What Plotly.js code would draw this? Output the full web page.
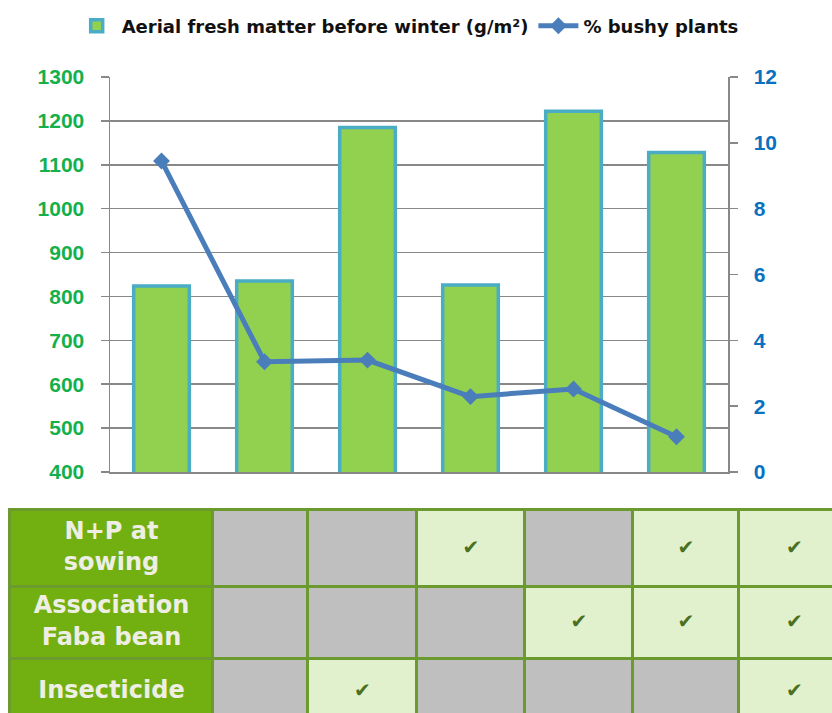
<!DOCTYPE html>
<html>
<head>
<meta charset="utf-8">
<script src="https://cdn.plot.ly/plotly-3.0.1.min.js"></script>
<style>html,body{margin:0;padding:0;background:#fff;}#chart{width:832px;height:713px;}</style>
</head>
<body>
<div id="chart"></div>
<script>
// ---- data ----
const treatments = ['Control', 'Insecticide', 'N+P', 'Faba bean', 'N+P + Faba bean', 'N+P + Faba bean + Insecticide'];
const freshMatter = [824, 835, 1185, 826, 1222, 1128];
const bushyPct = [9.45, 3.35, 3.40, 2.29, 2.52, 1.07];
const barName = 'Aerial fresh matter before winter (g/m²)';
const lineName = '% bushy plants';

const rowLabels = ['N+P at<br>sowing', 'Association<br>Faba bean', 'Insecticide'];
const npSowing   = [0, 0, 1, 0, 1, 1];
const fabaBean   = [0, 0, 0, 1, 1, 1];
const insecticide = [0, 1, 0, 0, 0, 1];
const tableRows = [npSowing, fabaBean, insecticide];

// ---- table geometry (pixel-like units of the table axes) ----
const colEdges = [10, 213, 308, 417, 525, 633, 739, 850];
const rowEdges = [510, 587, 659, 725];

const C = {
  header: '#72b012', gray: '#bfbfbf', light: '#e1f0cd', border: '#6b9a2e',
  headerText: '#eeeee4', check: '#4a7020',
  bar: '#92d050', barLine: '#4bacc6', line: '#4a7ebb',
  grid: '#888888', leftTick: '#14b04c', rightTick: '#0a70c0'
};

// heatmap z: 0 header, 1 empty (gray), 2 checked
const z = tableRows.map(r => [0].concat(r.map(v => v ? 2 : 1)));

// text trace for the table
const tx = [], ty = [], tt = [], tc = [], ts = [];
const colCenters = colEdges.slice(0, -1).map((e, i) => (e + colEdges[i + 1]) / 2);
const rowCenters = rowEdges.slice(0, -1).map((e, i) => (e + rowEdges[i + 1]) / 2);
tableRows.forEach((r, i) => {
  tx.push(colCenters[0]); ty.push(rowCenters[i]); tt.push('<b>' + rowLabels[i] + '</b>');
  tc.push(C.headerText); ts.push(24);
  r.forEach((v, j) => {
    if (v) {
      tx.push(colCenters[j + 1]); ty.push(rowCenters[i]); tt.push('✔');
      tc.push(C.check); ts.push(20);
    }
  });
});

const H = 713, W = 832;
const traces = [
  {
    type: 'bar', x: treatments, y: freshMatter, name: '<b>' + barName + '</b>',
    marker: {color: C.bar, line: {color: C.barLine, width: 3.5}},
    xaxis: 'x', yaxis: 'y', hoverinfo: 'y'
  },
  {
    type: 'scatter', mode: 'lines+markers', x: treatments, y: bushyPct, name: '<b>' + lineName + '</b>',
    line: {color: C.line, width: 5},
    marker: {symbol: 'diamond', size: 13, color: C.line},
    xaxis: 'x', yaxis: 'y2', cliponaxis: false
  },
  {
    type: 'heatmap', x: colEdges, y: rowEdges, z: z,
    zmin: 0, zmax: 2, showscale: false,
    colorscale: [[0, C.header], [0.5, C.gray], [1, C.light]],
    xgap: 3, ygap: 3, xaxis: 'x3', yaxis: 'y3', hoverinfo: 'skip', showlegend: false
  },
  {
    type: 'scatter', mode: 'text', x: tx, y: ty, text: tt,
    textfont: {family: 'DejaVu Sans', color: tc, size: ts},
    xaxis: 'x3', yaxis: 'y3', showlegend: false, hoverinfo: 'skip', cliponaxis: false
  }
];

const layout = {
  width: W, height: H,
  margin: {l: 0, r: 0, t: 0, b: 0},
  paper_bgcolor: '#ffffff', plot_bgcolor: '#ffffff',
  bargap: 0.46,
  showlegend: true,
  legend: {
    orientation: 'h', x: 0.49, xanchor: 'center', y: 1 - 26 / H, yanchor: 'middle',
    font: {family: 'DejaVu Sans', size: 18, color: '#111111'},
    itemwidth: 40, tracegroupgap: 0, bgcolor: 'rgba(0,0,0,0)'
  },
  xaxis: {
    domain: [110 / W, 728 / W], range: [-0.5, 5.5], showticklabels: false, ticks: '',
    showgrid: false, showline: true, linecolor: C.grid, linewidth: 1.5, zeroline: false, fixedrange: true
  },
  yaxis: {
    domain: [(H - 472) / H, (H - 77) / H], range: [400, 1300], dtick: 100, tick0: 400,
    showgrid: true, gridcolor: C.grid, gridwidth: 1.5,
    showline: true, linecolor: C.grid, linewidth: 1.5,
    ticks: 'outside', ticklen: 8, tickwidth: 1.5, tickcolor: C.grid,
    ticklabelstandoff: 12,
    tickfont: {family: 'Liberation Sans', size: 21, color: C.leftTick, weight: 'bold'},
    zeroline: false, fixedrange: true
  },
  yaxis2: {
    overlaying: 'y', side: 'right', anchor: 'x', range: [0, 12], dtick: 2, tick0: 0,
    showgrid: false, showline: true, linecolor: C.grid, linewidth: 1.5,
    ticks: 'outside', ticklen: 8, tickwidth: 1.5, tickcolor: C.grid,
    ticklabelstandoff: 12,
    tickfont: {family: 'Liberation Sans', size: 21, color: C.rightTick, weight: 'bold'},
    zeroline: false, fixedrange: true
  },
  xaxis3: {domain: [0, 1], range: [0, W], visible: false, fixedrange: true, anchor: 'y3'},
  yaxis3: {domain: [0, (H - 508) / H], range: [H, 508], visible: false, fixedrange: true, anchor: 'x3'},
  shapes: [{
    type: 'rect', xref: 'x3', yref: 'y3', layer: 'below',
    x0: colEdges[0] - 2, x1: colEdges[colEdges.length - 1], y0: rowEdges[0] - 2, y1: rowEdges[rowEdges.length - 1],
    fillcolor: C.border, line: {width: 0}
  }]
};

Plotly.newPlot('chart', traces, layout, {displayModeBar: false, staticPlot: true});
</script>
</body>
</html>
